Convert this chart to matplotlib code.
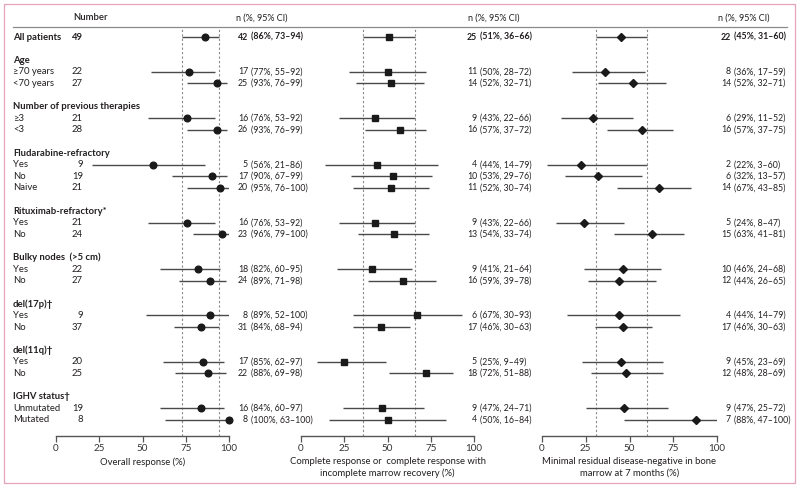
import matplotlib.pyplot as plt
from matplotlib.patches import Rectangle

plt.rcParams["font.family"] = ["Lato", "DejaVu Sans"]

# ---- data -----------------------------------------------------------------
groups = [
    ("Age", ["≥70 years", "<70 years"]),
    ("Number of previous therapies", ["≥3", "<3"]),
    ("Fludarabine-refractory", ["Yes", "No", "Naive"]),
    ("Rituximab-refractory*", ["Yes", "No"]),
    ("Bulky nodes  (>5 cm)", ["Yes", "No"]),
    ("del(17p)†", ["Yes", "No"]),
    ("del(11q)†", ["Yes", "No"]),
    ("IGHV status†", ["Unmutated", "Mutated"]),
]
numbers = [49, 22, 27, 21, 28, 9, 19, 21, 21, 24, 22, 27, 9, 37, 20, 25, 19, 8]

# overall response
or_n = [42, 17, 25, 16, 26, 5, 17, 20, 16, 23, 18, 24, 8, 31, 17, 22, 16, 8]
or_pct = [86, 77, 93, 76, 93, 56, 90, 95, 76, 96, 82, 89, 89, 84, 85, 88, 84, 100]
or_lo = [73, 55, 76, 53, 76, 21, 67, 76, 53, 79, 60, 71, 52, 68, 62, 69, 60, 63]
or_hi = [94, 92, 99, 92, 99, 86, 99, 100, 92, 100, 95, 98, 100, 94, 97, 98, 97, 100]

# complete response / CRi
cr_n = [25, 11, 14, 9, 16, 4, 10, 11, 9, 13, 9, 16, 6, 17, 5, 18, 9, 4]
cr_pct = [51, 50, 52, 43, 57, 44, 53, 52, 43, 54, 41, 59, 67, 46, 25, 72, 47, 50]
cr_lo = [36, 28, 32, 22, 37, 14, 29, 30, 22, 33, 21, 39, 30, 30, 9, 51, 24, 16]
cr_hi = [66, 72, 71, 66, 72, 79, 76, 74, 66, 74, 64, 78, 93, 63, 49, 88, 71, 84]

# MRD-negative at 7 months
mrd_n = [22, 8, 14, 6, 16, 2, 6, 14, 5, 15, 10, 12, 4, 17, 9, 12, 9, 7]
mrd_pct = [45, 36, 52, 29, 57, 22, 32, 67, 24, 63, 46, 44, 44, 46, 45, 48, 47, 88]
mrd_lo = [31, 17, 32, 11, 37, 3, 13, 43, 8, 41, 24, 26, 14, 30, 23, 28, 25, 47]
mrd_hi = [60, 59, 71, 52, 75, 60, 57, 85, 47, 81, 68, 65, 79, 63, 69, 69, 72, 100]

# ---- layout -----------------------------------------------------------------
W, H = 800, 488
SLOT = 11.6          # px per row slot
Y0 = 37              # pixel y of "All patients"
TXT = "#231f20"
FS = 6.8             # labels
FV = 6.3             # value columns


def slot_of(py):
    return (py - Y0) / SLOT


# build row slots
labels, label_slots, header_slots = [], [], []
labels.append("All patients")
label_slots.append(0)
s = 0
for head, subs in groups:
    s += 2
    header_slots.append((head, s))
    for sub in subs:
        s += 1
        labels.append(sub)
        label_slots.append(s)

fig = plt.figure(figsize=(W / 100, H / 100), dpi=100)
bg = fig.add_axes([0, 0, 1, 1])
bg.set_xlim(0, W)
bg.set_ylim(slot_of(H), slot_of(0))
bg.axis("off")

# pink frame + header rule
bg.add_patch(Rectangle((4, slot_of(483)), 791, slot_of(4) - slot_of(483),
                       fill=False, ec="#e9a3bd", lw=0.9))
bg.plot([13, 787], [slot_of(27)] * 2, color="#8a8a8a", lw=0.9)

hy = slot_of(18)
bg.text(73, hy, "Number", fontsize=FS, color=TXT, va="center", fontweight="semibold")
for hx in (236, 468, 718):
    bg.text(hx, hy, "n (%, 95% CI)", fontsize=FV + 0.2, color=TXT, va="center")

for head, hs in header_slots:
    bg.text(13, hs, head, fontsize=FS, color=TXT, va="center", fontweight="bold")

for i, (lab, ls) in enumerate(zip(labels, label_slots)):
    w = "bold" if i == 0 else "normal"
    bg.text(13, ls, lab, fontsize=FS, color=TXT, va="center", fontweight=w)
    bg.text(83, ls, str(numbers[i]), fontsize=FS, color=TXT, va="center",
            ha="right", fontweight=w)

panels = [
    (56, 173, or_n, or_pct, or_lo, or_hi, (73, 94), "o", 4.8, 251,
     "Overall response (%)"),
    (301, 173, cr_n, cr_pct, cr_lo, cr_hi, (36, 66), "s", 4.3, 480,
     "Complete response or  complete response with\nincomplete marrow recovery (%)"),
    (542, 175, mrd_n, mrd_pct, mrd_lo, mrd_hi, (31, 60), "D", 3.8, 734,
     "Minimal residual disease-negative in bone\nmarrow at 7 months (%)"),
]

top_px, bot_px = 27, 436
for (x0, wpx, n, pct, lo, hi, ref, mk, ms, xp, xlabel) in panels:
    ax = fig.add_axes([x0 / W, (H - bot_px) / H, wpx / W, (bot_px - top_px) / H])
    ax.patch.set_alpha(0)
    ax.set_xlim(0, 100)
    ax.set_ylim(slot_of(bot_px), slot_of(top_px))
    for sp in ("top", "right", "left"):
        ax.spines[sp].set_visible(False)
    ax.spines["bottom"].set_color("#555555")
    ax.spines["bottom"].set_linewidth(1.0)
    ax.set_yticks([])
    ax.set_xticks([0, 25, 50, 75, 100])
    ax.tick_params(axis="x", length=4, width=0.9, color="#555555", pad=2,
                   labelsize=FS + 0.3, labelcolor="#333333")
    for r in ref:
        ax.axvline(r, color="#8a8a8a", lw=0.8, ls=(0, (2, 2)))
    ax.hlines(label_slots, lo, hi, color="#4a4a4a", lw=1.0)
    ax.plot(pct, label_slots, ls="none", marker=mk, ms=ms, color="#1a1a1a",
            clip_on=False)
    ax.set_xlabel(xlabel, fontsize=FS, color=TXT, labelpad=3, linespacing=1.3)

    for i, ls in enumerate(label_slots):
        w = "bold" if i == 0 else "normal"
        bg.text(xp - 3, ls, str(n[i]), fontsize=FV, color=TXT, va="center",
                ha="right", fontweight=w)
        bg.text(xp, ls, f"({pct[i]}%, {lo[i]}–{hi[i]})", fontsize=FV,
                color=TXT, va="center", fontweight=w)

fig.savefig("out.png", dpi=100, facecolor="white")
